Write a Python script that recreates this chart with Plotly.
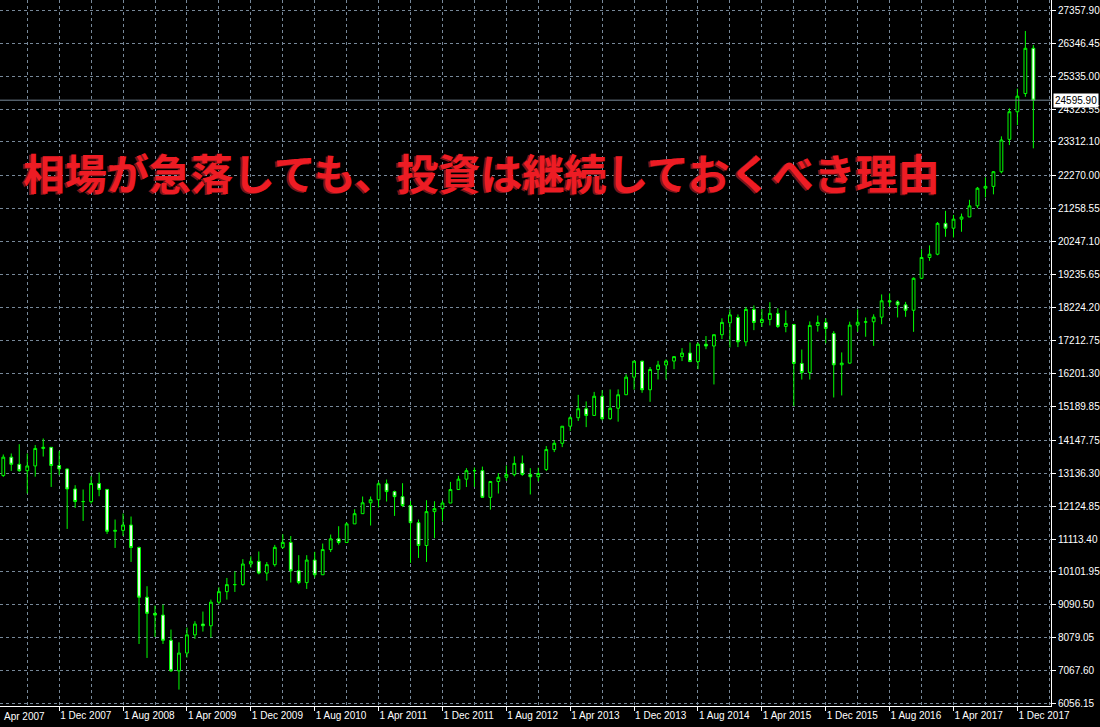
import pandas as pd
import plotly.graph_objects as go

# Monthly candles, May 2007 .. Feb 2018
months = pd.period_range("2007-05", "2018-02", freq="M").strftime("%Y-%m").tolist()

opens = [
    13063, 13628, 13409, 13212, 13358, 13896, 13930, 13372,
    13265, 12650, 12266, 12263, 12820, 12638, 11350, 11378, 11544, 10851, 9325, 8829,
    8776, 8001, 7063, 7609, 8168, 8500, 8447, 9172, 9496, 9712, 9713, 10345,
    10428, 10067, 10325, 10857, 11009, 10137, 9774, 10466, 10015, 10788, 11118, 11006,
    11578, 11892, 12226, 12320, 12811, 12570, 12414, 12143, 11614, 10913, 11955, 12046,
    12218, 12633, 12952, 13212, 13214, 12393, 12880, 13009, 13091, 13437, 13096, 13026,
    13250, 13861, 14054, 14579, 14840, 15116, 14910, 15500, 14810, 15130, 15546, 16086,
    16577, 15699, 16322, 16458, 16581, 16717, 16827, 16563, 17098, 17043, 17391, 17756,
    17921, 17171, 18168, 17768, 17860, 18045, 17645, 17706, 16507, 16231, 17676, 17768,
    17430, 16466, 16517, 17685, 17774, 17787, 17930, 18432, 18401, 18308, 18142, 19124,
    19763, 19864, 20812, 20663, 20941, 21009, 21350, 21891, 21948, 22398, 23393, 24240,
    24800, 26191,
]
highs = [
    13710, 13741, 14027, 13741, 14000, 14202, 13931, 13811,
    13280, 12767, 12634, 13043, 13157, 12638, 11712, 11897, 11804, 10882, 9662, 9068,
    9099, 8331, 7940, 8392, 8588, 8884, 9253, 9630, 9917, 10119, 10495, 10580,
    10729, 10405, 10933, 11258, 11205, 10617, 10617, 10720, 10974, 11251, 11506, 11625,
    12028, 12419, 12419, 12876, 12941, 12600, 12828, 12284, 11712, 12306, 12275, 12299,
    12868, 13055, 13290, 13311, 13338, 12898, 13139, 13372, 13653, 13680, 13290, 13305,
    13969, 14149, 14585, 14888, 15542, 15340, 15634, 15687, 15709, 15710, 16174, 16588,
    16589, 16398, 16588, 16632, 16735, 16978, 17152, 17153, 17350, 17395, 17895, 18167,
    18014, 18244, 18289, 18175, 18389, 18203, 18137, 17712, 16933, 17799, 17978, 17896,
    17500, 16846, 17791, 18167, 17921, 18017, 18628, 18659, 18450, 18399, 19152, 20012,
    20134, 20851, 21197, 21070, 21112, 21535, 21930, 22225, 22420, 23485, 24346, 24950,
    26723, 26292,
]
lows = [
    13021, 13206, 13178, 12511, 13029, 13647, 12714, 13074,
    11423, 12069, 11669, 12200, 12428, 11269, 10839, 11208, 10409, 7888, 7458, 8103,
    7888, 7027, 6486, 7469, 8044, 8269, 8085, 9100, 9252, 9487, 9678, 10236,
    10028, 9835, 10265, 10814, 9776, 9723, 9579, 9929, 10015, 10712, 10943, 11006,
    11578, 11892, 11528, 12081, 12265, 11823, 12093, 10380, 10532, 10409, 11137, 11650,
    12218, 12625, 12710, 12714, 12388, 12016, 12511, 12899, 13036, 13055, 12481, 12883,
    13200, 13784, 13937, 14434, 14740, 14551, 14910, 14760, 14777, 14719, 15546, 15703,
    15604, 15328, 16015, 16015, 16333, 16580, 16563, 16333, 16945, 15862, 17254, 17000,
    17010, 17037, 17531, 17630, 17676, 17596, 17465, 15200, 16013, 16013, 17485, 17129,
    15462, 15524, 16505, 17479, 17327, 17047, 17713, 18247, 17921, 17940, 17479, 19097,
    19661, 19832, 20399, 20379, 20554, 21004, 21279, 21610, 21703, 22350, 23218, 23830,
    24700, 23117,
]
closes = [
    13628, 13409, 13212, 13358, 13896, 13930, 13372, 13265,
    12650, 12266, 12263, 12820, 12638, 11350, 11378, 11544, 10851, 9325, 8829, 8776,
    8001, 7063, 7609, 8168, 8500, 8447, 9172, 9496, 9712, 9713, 10345, 10428,
    10067, 10325, 10857, 11009, 10137, 9774, 10466, 10015, 10788, 11118, 11006, 11578,
    11892, 12226, 12320, 12811, 12570, 12414, 12143, 11614, 10913, 11955, 12046, 12218,
    12633, 12952, 13212, 13214, 12393, 12880, 13009, 13091, 13437, 13096, 13026, 13126,
    13861, 14054, 14579, 14840, 15116, 14910, 15500, 14810, 15130, 15546, 16086, 16577,
    15699, 16322, 16458, 16581, 16717, 16827, 16563, 17098, 17043, 17391, 17768, 18000,
    17171, 18168, 17768, 17860, 18045, 17645, 17737, 16507, 16231, 17676, 17768, 17584,
    16466, 16517, 17685, 17774, 17787, 17930, 18432, 18401, 18308, 18142, 19124, 19763,
    19864, 20812, 20663, 20941, 21009, 21350, 21891, 21948, 22398, 23372, 24242, 24720,
    26191, 24595.90,
]

# Axis labels
x_tick_months = ["2007-12", "2008-08", "2009-04", "2009-12", "2010-08", "2011-04",
                 "2011-12", "2012-08", "2013-04", "2013-12", "2014-08", "2015-04",
                 "2015-12", "2016-08", "2017-04", "2017-12"]
x_tick_labels = ["1 Dec 2007", "1 Aug 2008", "1 Apr 2009", "1 Dec 2009", "1 Aug 2010",
                 "1 Apr 2011", "1 Dec 2011", "1 Aug 2012", "1 Apr 2013", "1 Dec 2013",
                 "1 Aug 2014", "1 Apr 2015", "1 Dec 2015", "1 Aug 2016", "1 Apr 2017",
                 "1 Dec 2017"]
x_grid_months = ["2007-08", "2008-04", "2008-12", "2009-08", "2010-04", "2010-12",
                 "2011-08", "2012-04", "2012-12", "2013-08", "2014-04", "2014-12",
                 "2015-08", "2016-04", "2016-12", "2017-08", "2018-04"]
first_label_partial = "Apr 2007"
y_tick_labels = ["6056.15", "7067.60", "8079.05", "9090.50", "10101.95", "11113.40",
                 "12124.85", "13136.30", "14147.75", "15189.85", "16201.30", "17212.75",
                 "18224.20", "19235.65", "20247.10", "21258.55", "22270.00", "23312.10",
                 "24323.55", "25335.00", "26346.45", "27357.90"]
y_tick_values = [float(v) for v in y_tick_labels]
title_text = "相場が急落しても、投資は継続しておくべき理由"

# month string -> index position
all_months = pd.period_range("2007-05", "2018-04", freq="M").strftime("%Y-%m").tolist()
pos = {m: i for i, m in enumerate(all_months)}
x = [pos[m] for m in months]

GRID = "#778899"
fig = go.Figure(go.Candlestick(
    x=x, open=opens, high=highs, low=lows, close=closes,
    increasing=dict(line=dict(color="#00ff00", width=1), fillcolor="#000000"),
    decreasing=dict(line=dict(color="#00ff00", width=1), fillcolor="#ffffff"),
    whiskerwidth=0, hoverinfo="skip", showlegend=False,
))

fig.add_hline(y=closes[-1], line=dict(color=GRID, width=1))

fig.update_layout(
    width=1100, height=727,
    margin=dict(l=0, r=47, t=0, b=21),
    paper_bgcolor="#000000", plot_bgcolor="#000000",
    boxgap=0.5,
    font=dict(family="Liberation Sans", size=10, color="#ffffff"),
    xaxis=dict(
        range=[-0.4125, 131.21], rangeslider=dict(visible=False),
        tickmode="array", tickvals=[pos[m] for m in x_tick_months], ticktext=x_tick_labels,
        ticklabelposition="outside right",
        ticks="outside", ticklen=4, tickcolor="#ffffff",
        showline=True, linecolor="#ffffff", linewidth=1,
        showgrid=True, gridcolor=GRID, griddash="3px,3px", gridwidth=1,
        minor=dict(tickmode="array", tickvals=[pos[m] for m in x_grid_months],
                   showgrid=True, gridcolor=GRID, griddash="3px,3px", gridwidth=1, ticks=""),
        zeroline=False, fixedrange=True,
    ),
    yaxis=dict(
        side="right", range=[5982.4, 27674.5],
        tickmode="array", tickvals=y_tick_values, ticktext=y_tick_labels,
        ticks="outside", ticklen=4, tickcolor="#ffffff",
        showline=True, linecolor="#ffffff", linewidth=1,
        showgrid=True, gridcolor=GRID, griddash="3px,3px", gridwidth=1,
        zeroline=False, fixedrange=True,
    ),
)

fig.add_annotation(
    xref="paper", yref="paper", x=0, y=0, xanchor="left", yanchor="top",
    yshift=-3, xshift=2, text=first_label_partial, showarrow=False,
    font=dict(family="Liberation Sans", size=10, color="#ffffff"),
)
fig.add_annotation(
    xref="paper", yref="y", x=1, y=closes[-1], xanchor="left", yanchor="middle",
    text=f"{closes[-1]:.2f}", showarrow=False, bgcolor="#ffffff", borderpad=1,
    font=dict(family="Liberation Sans", size=10, color="#000000"), xshift=2,
)
fig.add_annotation(
    xref="paper", yref="paper", x=0.02, y=1 - 171 / 706, xanchor="left", yanchor="middle",
    text=f"<b>{title_text}</b>", showarrow=False,
    font=dict(family="Noto Sans CJK JP", size=42, color="#ed1c24",
              shadow="-2px 1px 0px #7a1418"),
)

fig.write_html(
    "out.html",
    config={"displayModeBar": False},
    post_script="document.body.style.margin='0';document.body.style.overflow='hidden';",
)
